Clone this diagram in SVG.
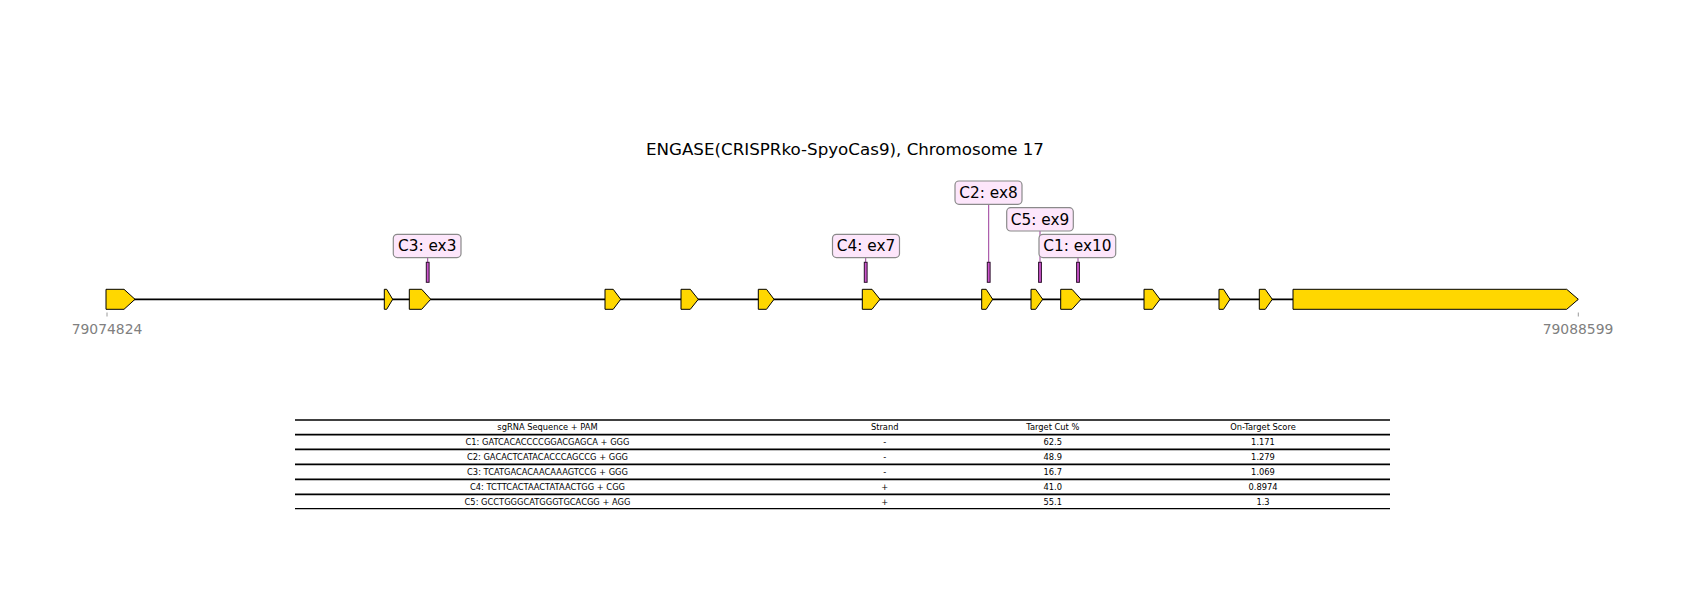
<svg xmlns="http://www.w3.org/2000/svg" width="1700" height="600" viewBox="0 0 1700 600">
<style>
.ex{fill:#FFD700;stroke:#000;stroke-width:1;stroke-linejoin:miter}
.cut{fill:#cc55cc;stroke:#2a102a;stroke-width:1}
.lbl{fill:#fde6fb;stroke:#8a8a8a;stroke-width:1.2}
.lt{font-family:"DejaVu Sans",sans-serif;font-size:15.3px;fill:#000;text-anchor:middle}
.conn{stroke:#9a3a9a;stroke-width:1;fill:none}
.ax{font-family:"DejaVu Sans",sans-serif;font-size:13.9px;fill:#808080;text-anchor:middle}
.tick{stroke:#808080;stroke-width:0.8}
.tt{font-family:"DejaVu Sans",sans-serif;font-size:8.3px;fill:#000;text-anchor:middle}
.hl{stroke:#000;stroke-width:1.8}
.ho{stroke:#000;stroke-width:1.3}
</style>
<rect width="1700" height="600" fill="#fff"/>
<g id="title"><text x="845" y="155" font-family="DejaVu Sans, sans-serif" font-size="16.7px" text-anchor="middle">ENGASE(CRISPRko-SpyoCas9), Chromosome 17</text></g>
<g id="backbone"><line x1="106" y1="299.3" x2="1578" y2="299.3" stroke="#000" stroke-width="1.8"/></g>
<g id="axis">
<line class="tick" x1="107" y1="312.5" x2="107" y2="316.5"/>
<line class="tick" x1="1578.3" y1="312.5" x2="1578.3" y2="316.5"/>
<text class="ax" x="107" y="334">79074824</text>
<text class="ax" x="1578" y="334">79088599</text>
</g>
<g id="exons">
<g id="exon1"><path class="ex" d="M106,289.3 H124 L135,299.3 L124,309.3 H106 Z"/></g>
<g id="exon2"><path class="ex" d="M384.3,289.3 H386.7 L392.7,299.3 L386.7,309.3 H384.3 Z"/></g>
<g id="exon3"><path class="ex" d="M409.3,289.3 H421.7 L430.7,299.3 L421.7,309.3 H409.3 Z"/></g>
<g id="exon4"><path class="ex" d="M605,289.3 H613.2 L620.7,299.3 L613.2,309.3 H605 Z"/></g>
<g id="exon5"><path class="ex" d="M681,289.3 H690.3 L698.3,299.3 L690.3,309.3 H681 Z"/></g>
<g id="exon6"><path class="ex" d="M758.3,289.3 H766.5 L774,299.3 L766.5,309.3 H758.3 Z"/></g>
<g id="exon7"><path class="ex" d="M862.3,289.3 H872 L880,299.3 L872,309.3 H862.3 Z"/></g>
<g id="exon8"><path class="ex" d="M981.7,289.3 H986.2 L992.7,299.3 L986.2,309.3 H981.7 Z"/></g>
<g id="exon9"><path class="ex" d="M1031,289.3 H1035.7 L1042.7,299.3 L1035.7,309.3 H1031 Z"/></g>
<g id="exon10"><path class="ex" d="M1060.7,289.3 H1072 L1081,299.3 L1072,309.3 H1060.7 Z"/></g>
<g id="exon11"><path class="ex" d="M1144,289.3 H1152.5 L1160,299.3 L1152.5,309.3 H1144 Z"/></g>
<g id="exon12"><path class="ex" d="M1219,289.3 H1223.5 L1230,299.3 L1223.5,309.3 H1219 Z"/></g>
<g id="exon13"><path class="ex" d="M1259.3,289.3 H1265.3 L1272.3,299.3 L1265.3,309.3 H1259.3 Z"/></g>
<g id="exon14"><path class="ex" d="M1293,289.3 H1566.7 L1578.3,299.3 L1566.7,309.3 H1293 Z"/></g>
</g>
<g id="connectors">
<line class="conn" x1="427.7" y1="257.3" x2="427.7" y2="262.3"/>
<line class="conn" x1="865.7" y1="257.7" x2="865.7" y2="262.3"/>
<line class="conn" x1="988.7" y1="204.3" x2="988.7" y2="262.3"/>
<line class="conn" x1="1040" y1="231" x2="1040" y2="262.3"/>
<line class="conn" x1="1078" y1="257.7" x2="1078" y2="262.3"/>
</g>
<g id="cut-C3"><rect class="cut" x="426.3" y="262.3" width="2.8" height="20"/></g>
<g id="cut-C4"><rect class="cut" x="864.3" y="262.3" width="2.8" height="20"/></g>
<g id="cut-C2"><rect class="cut" x="987.3" y="262.3" width="2.8" height="20"/></g>
<g id="cut-C5"><rect class="cut" x="1038.6" y="262.3" width="2.8" height="20"/></g>
<g id="cut-C1"><rect class="cut" x="1076.6" y="262.3" width="2.8" height="20"/></g>
<g id="label-C3"><rect class="lbl" x="393.3" y="234.3" width="67.7" height="23.3" rx="4"/><text class="lt" x="427.2" y="251.2">C3: ex3</text></g>
<g id="label-C4"><rect class="lbl" x="832.5" y="234.3" width="67" height="23.3" rx="4"/><text class="lt" x="866" y="251.2">C4: ex7</text></g>
<g id="label-C2"><rect class="lbl" x="955" y="181" width="67" height="23.3" rx="4"/><text class="lt" x="988.5" y="197.9">C2: ex8</text></g>
<g id="label-C5"><rect class="lbl" x="1006.7" y="207.7" width="66.6" height="23.3" rx="4"/><text class="lt" x="1040" y="224.6">C5: ex9</text></g>
<g id="label-C1"><rect class="lbl" x="1039" y="234.3" width="76.7" height="23.3" rx="4"/><text class="lt" x="1077.4" y="251.2">C1: ex10</text></g>
<g id="table">
<line class="ho" x1="295" y1="420" x2="1390" y2="420"/>
<line class="hl" x1="295" y1="434.7" x2="1390" y2="434.7"/>
<line class="hl" x1="295" y1="449.3" x2="1390" y2="449.3"/>
<line class="hl" x1="295" y1="464.3" x2="1390" y2="464.3"/>
<line class="hl" x1="295" y1="479.3" x2="1390" y2="479.3"/>
<line class="hl" x1="295" y1="494.3" x2="1390" y2="494.3"/>
<line class="ho" x1="295" y1="508.7" x2="1390" y2="508.7"/>
<text class="tt" x="547.5" y="430.3">sgRNA Sequence + PAM</text>
<text class="tt" x="884.7" y="430.3">Strand</text>
<text class="tt" x="1052.8" y="430.3">Target Cut %</text>
<text class="tt" x="1263" y="430.3">On-Target Score</text>
<text class="tt" x="547.5" y="444.9">C1: GATCACACCCCGGACGAGCA + GGG</text>
<text class="tt" x="884.7" y="444.9">-</text>
<text class="tt" x="1052.8" y="444.9">62.5</text>
<text class="tt" x="1263" y="444.9">1.171</text>
<text class="tt" x="547.5" y="459.8">C2: GACACTCATACACCCAGCCG + GGG</text>
<text class="tt" x="884.7" y="459.8">-</text>
<text class="tt" x="1052.8" y="459.8">48.9</text>
<text class="tt" x="1263" y="459.8">1.279</text>
<text class="tt" x="547.5" y="474.8">C3: TCATGACACAACAAAGTCCG + GGG</text>
<text class="tt" x="884.7" y="474.8">-</text>
<text class="tt" x="1052.8" y="474.8">16.7</text>
<text class="tt" x="1263" y="474.8">1.069</text>
<text class="tt" x="547.5" y="489.8">C4: TCTTCACTAACTATAACTGG + CGG</text>
<text class="tt" x="884.7" y="489.8">+</text>
<text class="tt" x="1052.8" y="489.8">41.0</text>
<text class="tt" x="1263" y="489.8">0.8974</text>
<text class="tt" x="547.5" y="504.5">C5: GCCTGGGCATGGGTGCACGG + AGG</text>
<text class="tt" x="884.7" y="504.5">+</text>
<text class="tt" x="1052.8" y="504.5">55.1</text>
<text class="tt" x="1263" y="504.5">1.3</text>
</g>
</svg>
